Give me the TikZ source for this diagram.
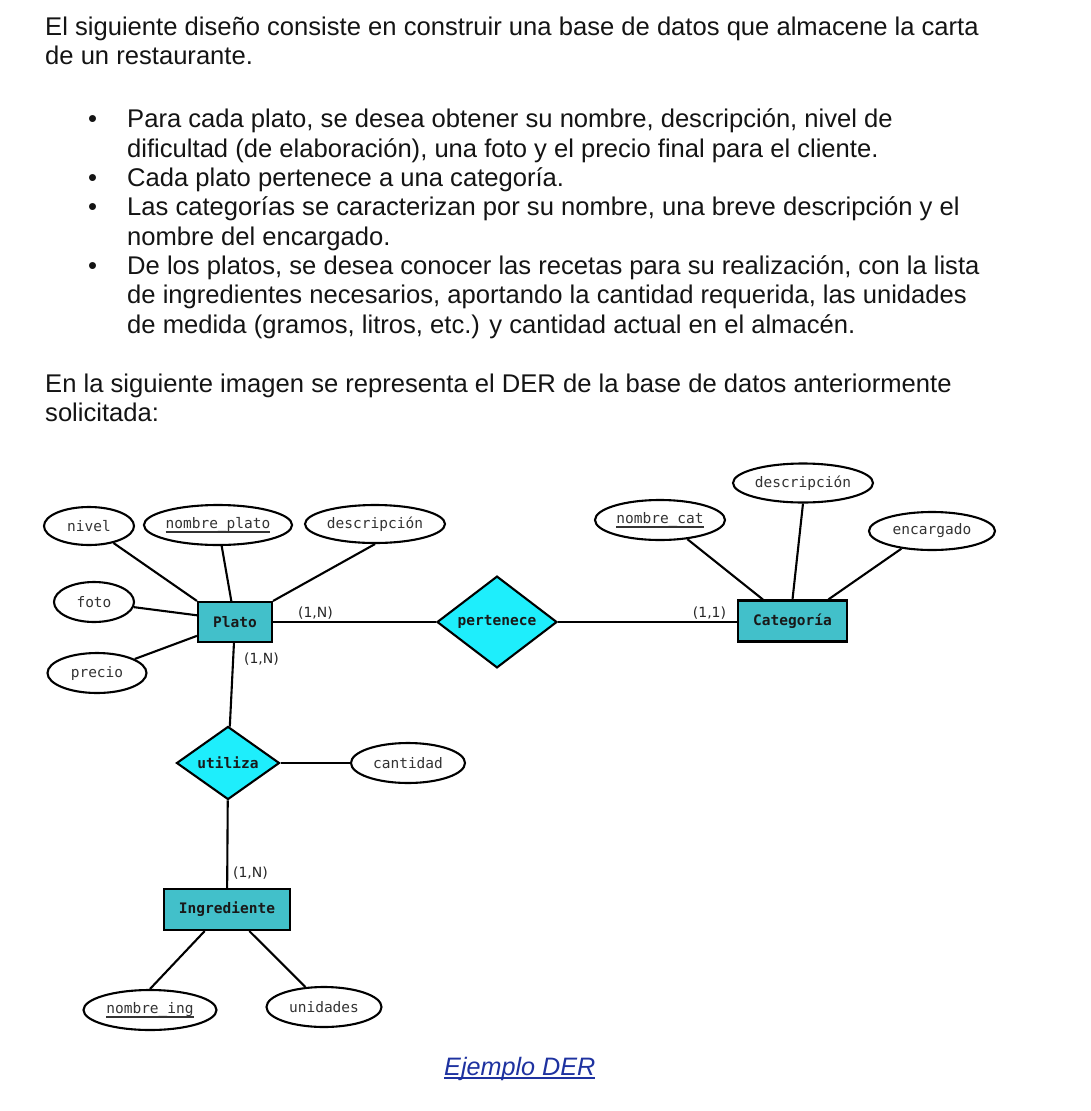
\documentclass[tikz,border=0pt]{standalone}
\usepackage{fontspec}
\setmainfont{Liberation Sans}
\newfontfamily\diafont{DejaVu Sans Mono}
\newfontfamily\cardfont{DejaVu Sans}
\usetikzlibrary{shapes.geometric}
\definecolor{entfill}{RGB}{66,192,202}
\definecolor{relfill}{RGB}{30,238,252}
\definecolor{linkblue}{RGB}{30,50,160}
\definecolor{txt}{RGB}{20,20,20}
\newcommand\keyattr[1]{\setbox0\hbox{#1}\rlap{\raisebox{-4.5pt}{\rule{\wd0}{1.7pt}}}\box0}
\newcommand\linkul[1]{\setbox0\hbox{#1}\rlap{\raisebox{-3.8pt}{\rule{\wd0}{1.6pt}}}\box0}
\tikzset{
  body/.style={anchor=base west, inner sep=0pt, font=\fontsize{25.6}{29}\selectfont, text=txt},
  attr/.style={ellipse, draw, line width=2.1pt, fill=white, inner sep=0pt,
    font=\diafont\fontsize{14.5}{16}\selectfont, text=black!80},
  entity/.style={rectangle, draw, fill=entfill, line width=2.1pt, inner sep=0pt,
    font=\diafont\bfseries\fontsize{14.5}{16}\selectfont, text=black!90},
  rel/.style={diamond, draw, fill=relfill, line width=2.1pt, inner sep=0pt,
    font=\diafont\bfseries\fontsize{14.5}{16}\selectfont, text=black!90},
  card/.style={inner sep=0pt, font=\cardfont\fontsize{14}{16}\selectfont, text=black!85},
  conn/.style={line width=2.1pt},
}
\begin{document}
\begin{tikzpicture}[x=1pt,y=-1pt]
\fill[white] (0,0) rectangle (1090,1111);
\useasboundingbox (0,0) rectangle (1090,1111);

% ---- text ----
\node[body] (t1) at (45,35) {El siguiente diseño consiste en construir una base de datos que almacene la carta};
\node[body] (t2) at (45,64) {de un restaurante.};
\node[body] (b1) at (88,127) {•};
\node[body] (l1) at (127,127) {Para cada plato, se desea obtener su nombre, descripción, nivel de};
\node[body] (l2) at (127,157) {dificultad (de elaboración), una foto y el precio final para el cliente.};
\node[body] (b2) at (88,186.5) {•};
\node[body] (l3) at (127,186.5) {Cada plato pertenece a una categoría.};
\node[body] (b3) at (88,215.5) {•};
\node[body] (l4) at (127,215.5) {Las categorías se caracterizan por su nombre, una breve descripción y el};
\node[body] (l5) at (127,245) {nombre del encargado.};
\node[body] (b4) at (88,274.5) {•};
\node[body] (l6) at (127,274.5) {De los platos, se desea conocer las recetas para su realización, con la lista};
\node[body] (l7) at (127,303.5) {de ingredientes necesarios, aportando la cantidad requerida, las unidades};
\node[body] (l8) at (127,333) {de medida (gramos, litros, etc.) y cantidad actual en el almacén.};
\node[body] (t3) at (45,392) {En la siguiente imagen se representa el DER de la base de datos anteriormente};
\node[body] (t4) at (45,421.5) {solicitada:};
\node[body, text=linkblue, font=\itshape\fontsize{25.2}{29}\selectfont] (cap) at (444,1075) {\linkul{Ejemplo DER}};

% ---- diagram nodes ----
\node[attr, minimum width=90pt, minimum height=38pt] (nivel) at (89,526) {nivel};
\node[attr, minimum width=148pt, minimum height=40pt] (nplato) at (218,525) {\keyattr{nombre\_plato}};
\node[attr, minimum width=140pt, minimum height=38pt] (descp) at (375,524) {descripción};
\node[attr, minimum width=80pt, minimum height=40pt] (foto) at (94,602) {foto};
\node[attr, minimum width=99pt, minimum height=40pt] (precio) at (97,673) {precio};
\node[entity, minimum width=74pt, minimum height=40pt] (plato) at (235,622) {Plato};
\node[rel, minimum width=120pt, minimum height=73pt] (pert) at (497,622) {pertenece};
\node[entity, minimum width=109pt, minimum height=41pt] (cat) at (792.5,621) {Categoría};
\node[attr, minimum width=140pt, minimum height=39pt] (descc) at (803,483) {descripción};
\node[attr, minimum width=130pt, minimum height=40pt] (ncat) at (660,520) {\keyattr{nombre\_cat}};
\node[attr, minimum width=126pt, minimum height=38pt] (encar) at (932,531) {encargado};
\node[rel, minimum width=103pt, minimum height=63pt] (util) at (228,763) {utiliza};
\node[attr, minimum width=114pt, minimum height=40pt] (cant) at (408,763) {cantidad};
\node[entity, minimum width=126pt, minimum height=41pt] (ingr) at (227,909.5) {Ingrediente};
\node[attr, minimum width=133pt, minimum height=40pt] (ning) at (150,1010) {\keyattr{nombre\_ing}};
\node[attr, minimum width=115pt, minimum height=40pt] (unid) at (324,1007) {unidades};

% ---- connectors ----
\draw[conn] (nivel) -- (plato.north west);
\draw[conn] (nplato) -- (plato);
\draw[conn] (descp.south) -- (plato.north east);
\draw[conn] (foto) -- (plato.170);
\draw[conn] (precio) -- (plato.200);
\draw[conn] (plato) -- (pert);
\draw[conn] (pert) -- (pert -| cat.west);
\draw[conn] (ncat.-35) -- (cat.144);
\draw[conn] (descc.south) -- (cat.north);
\draw[conn] (encar.210) -- (cat.31);
\draw[conn] (plato) -- (util);
\draw[conn] (util) -- (cant);
\draw[conn] (util) -- (ingr);
\draw[conn] (ingr.224) -- (ning.north);
\draw[conn] (ingr.316) -- (unid.133);

% ---- cardinalities ----
\node[card] (c1) at (315.5,613.5) {(1,N)};
\node[card] (c2) at (261.5,659.5) {(1,N)};
\node[card] (c3) at (709.5,613.5) {(1,1)};
\node[card] (c4) at (250.5,873) {(1,N)};
\end{tikzpicture}
\end{document}
